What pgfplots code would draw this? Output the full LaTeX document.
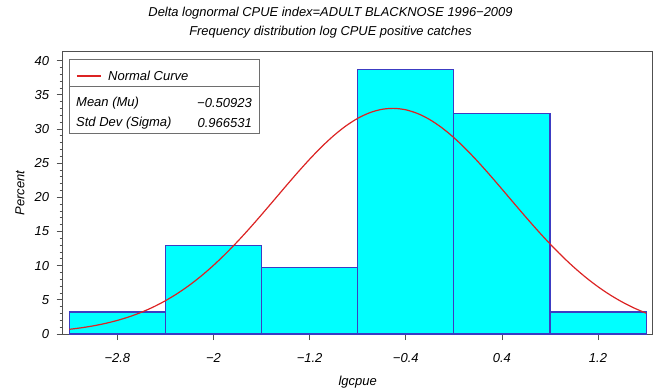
\documentclass[border=0pt]{standalone}
\usepackage{fontspec}
\setmainfont{Liberation Sans}
\usepackage{pgfplots}
\pgfplotsset{compat=1.18}
\usetikzlibrary{calc}
\definecolor{barfill}{RGB}{0,255,255}
\definecolor{baredge}{RGB}{60,60,195}
\definecolor{curvered}{RGB}{220,35,35}
\definecolor{framegray}{RGB}{80,80,80}
\definecolor{boxgray}{RGB}{110,110,110}
\newcommand{\chartfont}{\fontsize{13}{15}\selectfont\itshape}
\newcommand{\titlefont}{\fontsize{12.9}{15}\selectfont\itshape}

\begin{document}
\begin{tikzpicture}
\begin{axis}[
  scale only axis,
  width=590pt, height=282pt,
  xmin=-3.255, xmax=1.655,
  ymin=0, ymax=41.27,
  clip=false,
  axis line style={framegray, line width=1pt},
  xtick pos=bottom, ytick pos=left,
  tick align=outside,
  major tick length=6pt, minor tick length=3pt,
  tick style={framegray, line width=0.8pt},
  xtick={-2.8,-2,-1.2,-0.4,0.4,1.2},
  xticklabels={−2.8,−2,−1.2,−0.4,0.4,1.2},
  ytick={0,5,10,15,20,25,30,35,40},
  yticklabels={0,5,10,15,20,25,30,35,40},
  minor y tick num=4,
  tick label style={font=\chartfont},
  xticklabel style={yshift=-10pt},
  yticklabel style={xshift=-4pt},
  xlabel={lgcpue}, ylabel={Percent},
  every axis x label/.style={at={(axis description cs:0.5,-0.170)}, anchor=center, font=\chartfont},
  every axis y label/.style={at={(axis description cs:-0.0724,0.5)}, rotate=90, anchor=center, font=\chartfont},
]
% histogram of the positive catches (percent per bin, bin width 0.8)
\addplot[ybar interval, fill=barfill, draw=baredge, line width=1.1pt] coordinates {
  (-3.2,3.2258) (-2.4,12.9032) (-1.6,9.6774) (-0.8,38.7097)
  (0,32.2581) (0.8,3.2258) (1.6,3.2258)
};
% fitted normal curve, mu = -0.50923, sigma = 0.966531
\addplot[curvered, line width=1.2pt, mark=none, smooth] coordinates {
  (-3.2,0.6852) (-3.1,0.9091) (-3.0,1.1932) (-2.9,1.5494) (-2.8,1.9906)
  (-2.7,2.5302) (-2.6,3.1819) (-2.5,3.9587) (-2.4,4.8729) (-2.3,5.9342)
  (-2.2,7.1497) (-2.1,8.5224) (-2.0,10.0508) (-1.9,11.7266) (-1.8,13.5364)
  (-1.7,15.4592) (-1.6,17.4672) (-1.5,19.5256) (-1.4,21.5944) (-1.3,23.6280)
  (-1.2,25.5782) (-1.1,27.3940) (-1.0,29.0267) (-0.9,30.4290) (-0.8,31.5595)
  (-0.7,32.3834) (-0.6,32.8751) (-0.5,33.0189) (-0.4,32.8102) (-0.3,32.2557)
  (-0.2,31.3730) (-0.1,30.1895) (0.0,28.7413) (0.1,27.0712) (0.2,25.2267)
  (0.3,23.2576) (0.4,21.2139) (0.5,19.1437) (0.6,17.0916) (0.7,15.0970)
  (0.8,13.1932) (0.9,11.4067) (1.0,9.7571) (1.1,8.2572) (1.2,6.9135)
  (1.3,5.7268) (1.4,4.6933) (1.5,3.8053) (1.6,3.0525)
};
% inset legend with the fitted parameters
\draw[boxgray, line width=0.8pt, fill=white] (axis description cs:0.0107,0.7128) rectangle (axis description cs:0.3327,0.9752);
\draw[boxgray, line width=0.8pt] (axis description cs:0.0107,0.8794) -- (axis description cs:0.3327,0.8794);
\draw[curvered, line width=1.2pt] (axis description cs:0.0242,0.9149) -- (axis description cs:0.0649,0.9149);
\node[anchor=west, inner sep=0pt, font=\chartfont] at (axis description cs:0.0768,0.9149) {Normal Curve};
\node[anchor=west, inner sep=0pt, font=\chartfont] at (axis description cs:0.0225,0.8191) {Mean (Mu)};
\node[anchor=west, inner sep=0pt, font=\chartfont] at (axis description cs:0.0225,0.7482) {Std Dev (Sigma)};
\node[anchor=east, inner sep=0pt, font=\chartfont] at (axis description cs:0.3208,0.8191) {−0.50923};
\node[anchor=east, inner sep=0pt, font=\chartfont] at (axis description cs:0.3208,0.7482) {0.966531};
% two-line title
\node[inner sep=0pt, font=\titlefont] at (axis description cs:0.4539,1.138) {Delta lognormal CPUE index=ADULT BLACKNOSE 1996−2009};
\node[inner sep=0pt, font=\titlefont] at (axis description cs:0.4539,1.071) {Frequency distribution log CPUE positive catches};
\end{axis}
\pgfresetboundingbox
\useasboundingbox ($(current axis.south west)+(-62.7pt,-57pt)$) rectangle ($(current axis.north east)+(8.3pt,52pt)$);
\end{tikzpicture}
\end{document}
